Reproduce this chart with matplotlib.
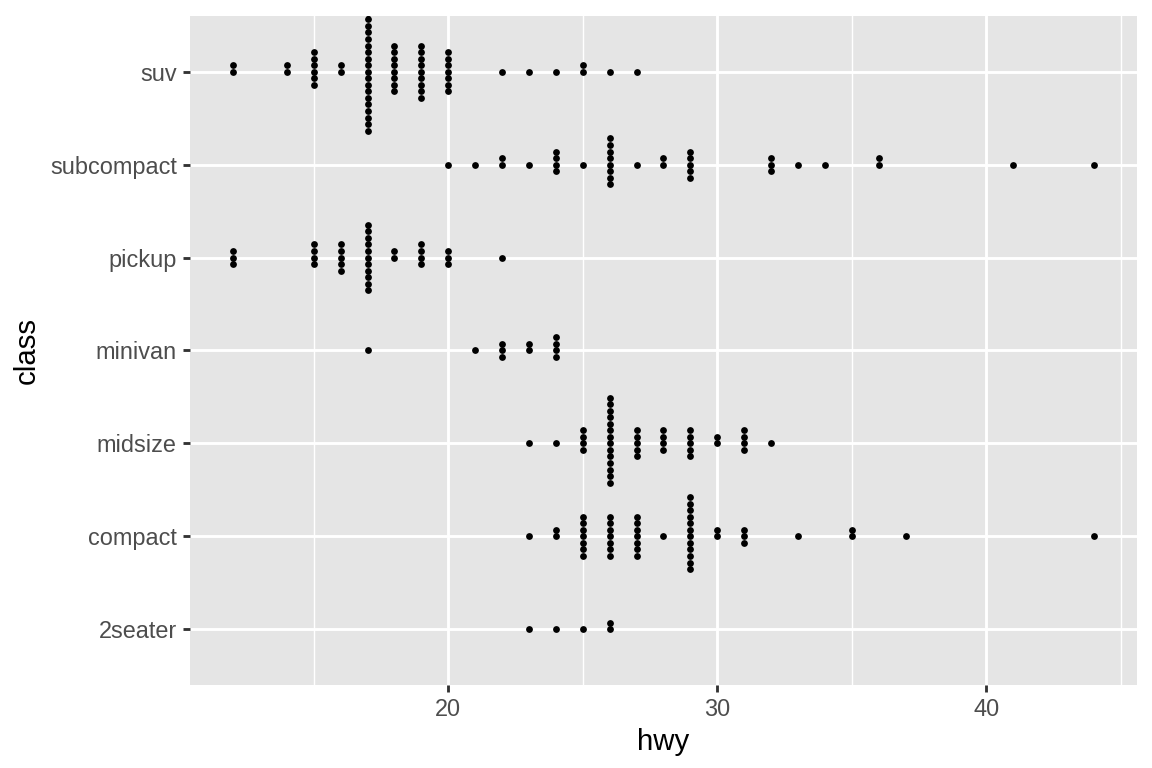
import matplotlib
matplotlib.use('Agg')
import matplotlib.pyplot as plt
import numpy as np

# hwy value -> number of cars, per class
CLASSES = ["2seater", "compact", "midsize", "minivan", "pickup", "subcompact", "suv"]

seater_hwy = [23, 24, 25, 26]
seater_n   = [1, 1, 1, 2]

compact_hwy = [23, 24, 25, 26, 27, 28, 29, 30, 31, 33, 35, 37, 44]
compact_n   = [1, 2, 7, 7, 7, 1, 12, 2, 3, 1, 2, 1, 1]

midsize_hwy = [23, 24, 25, 26, 27, 28, 29, 30, 31, 32]
midsize_n   = [1, 1, 4, 14, 5, 4, 5, 2, 4, 1]

minivan_hwy = [17, 21, 22, 23, 24]
minivan_n   = [1, 1, 3, 2, 4]

pickup_hwy = [12, 15, 16, 17, 18, 19, 20, 22]
pickup_n   = [3, 4, 5, 11, 2, 4, 3, 1]

subcompact_hwy = [20, 21, 22, 23, 24, 25, 26, 27, 28, 29, 32, 33, 34, 36, 41, 44]
subcompact_n   = [1, 1, 2, 1, 4, 1, 8, 1, 2, 5, 3, 1, 1, 2, 1, 1]

suv_hwy = [12, 14, 15, 16, 17, 18, 19, 20, 22, 23, 24, 25, 26, 27]
suv_n   = [2, 2, 6, 2, 19, 8, 9, 7, 1, 1, 1, 2, 1, 1]

GROUPS = [
    (seater_hwy, seater_n),
    (compact_hwy, compact_n),
    (midsize_hwy, midsize_n),
    (minivan_hwy, minivan_n),
    (pickup_hwy, pickup_n),
    (subcompact_hwy, subcompact_n),
    (suv_hwy, suv_n),
]

BG      = "#E5E5E5"
STEP    = 0.0705      # vertical spacing between stacked dots (y units)

fig = plt.figure(figsize=(6, 4), dpi=192)
ax = fig.add_axes([0.1649, 0.1081, 0.8221, 0.8711])
ax.set_facecolor(BG)

for yi, (hwy, counts) in enumerate(GROUPS, start=1):
    xs, ys = [], []
    for x, n in zip(hwy, counts):
        # "centerwhole" stacking as in geom_dotplot
        offs = np.arange(n) - (n - 1) // 2
        xs += [x] * n
        ys += list(yi + offs * STEP)
    ax.scatter(xs, ys, s=2.55 ** 2, color="black", linewidths=0, zorder=3)

ax.set_xlim(10.4, 45.6)
ax.set_ylim(0.4, 7.6)
ax.set_xticks([20, 30, 40])
ax.set_xticks([15, 25, 35, 45], minor=True)
ax.set_yticks(range(1, len(CLASSES) + 1))
ax.set_yticklabels(CLASSES)

ax.grid(True, which="major", color="white", lw=1.07, zorder=0)
ax.grid(True, which="minor", axis="x", color="white", lw=0.53, zorder=0)
ax.set_axisbelow(True)
for s in ax.spines.values():
    s.set_visible(False)

ax.tick_params(which="major", length=2.75, width=1.07, color="#333333",
               labelcolor="#4D4D4D", labelsize=8.8, pad=2.2)
ax.tick_params(which="minor", length=0)
for lab in ax.get_xticklabels() + ax.get_yticklabels():
    lab.set_family("Liberation Sans")

ax.set_xlabel("hwy", fontsize=11, family="Liberation Sans", labelpad=2.5)
ax.set_ylabel("class", fontsize=11, family="Liberation Sans", labelpad=3.5)

fig.savefig("out.png", dpi=192)
